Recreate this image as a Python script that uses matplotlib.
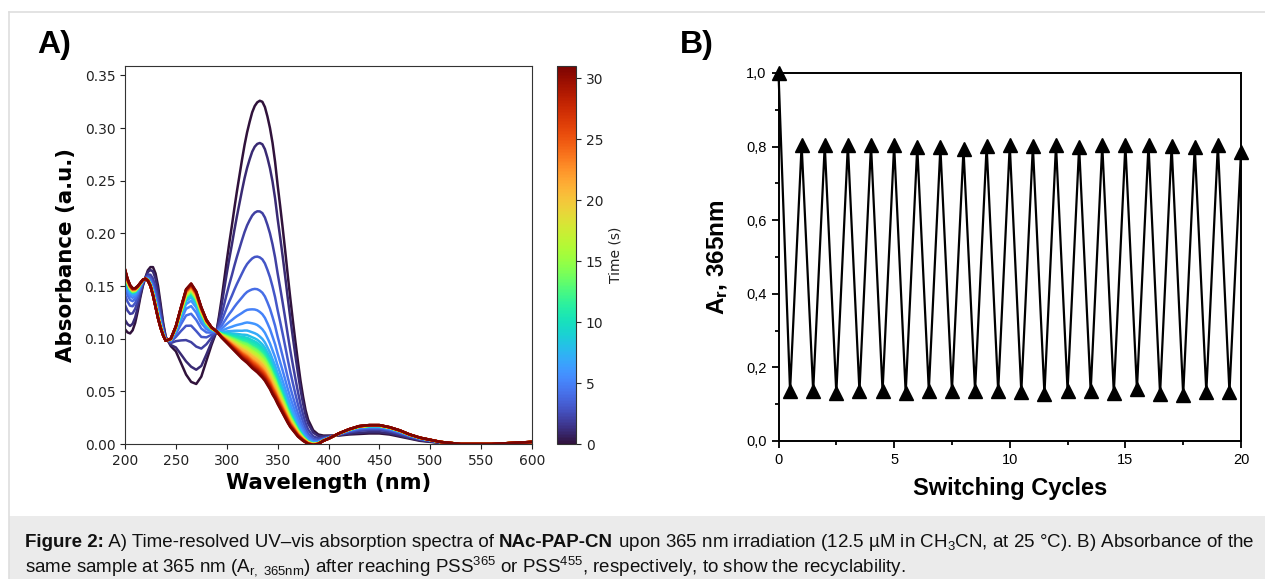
import numpy as np
import matplotlib
matplotlib.use("Agg")
import matplotlib.pyplot as plt
from matplotlib.colors import Normalize
from matplotlib.patches import Rectangle
from matplotlib.ticker import MultipleLocator, FuncFormatter

plt.rcParams['mathtext.fontset'] = 'custom'
plt.rcParams['mathtext.rm'] = 'Liberation Sans'
plt.rcParams['mathtext.it'] = 'Liberation Sans:italic'
plt.rcParams['mathtext.bf'] = 'Liberation Sans:bold'

# --- panel A data: spectra ---
wavelength = [200, 202.5, 205, 207.5, 210, 212.5, 215, 217.5, 220, 222.5, 225, 227.5,
              230, 232.5, 235, 237.5, 240, 245, 250, 255, 260, 265, 270, 275, 280,
              285, 290, 292.5, 295, 297.5, 300, 302.5, 305, 307.5, 310, 312.5, 315,
              317.5, 320, 322.5, 325, 327.5, 330, 332.5, 335, 337.5, 340, 342.5, 345,
              347.5, 350, 352.5, 355, 357.5, 360, 362.5, 365, 367.5, 370, 372.5, 375,
              377.5, 380, 385, 390, 395, 400, 410, 420, 430, 440, 450, 460, 470, 480,
              490, 500, 510, 520, 530, 540, 550, 560, 570, 580, 590, 600]
# spectrum at t = 0 s (darkest curve)
abs_start = [0.109, 0.106, 0.105, 0.108, 0.115, 0.126, 0.139, 0.150, 0.158, 0.165,
             0.168, 0.168, 0.162, 0.150, 0.133, 0.115, 0.102, 0.093, 0.088, 0.077,
             0.066, 0.059, 0.057, 0.064, 0.079, 0.094, 0.107, 0.122, 0.138, 0.156,
             0.174, 0.191, 0.207, 0.224, 0.240, 0.255, 0.270, 0.284, 0.296, 0.306,
             0.315, 0.321, 0.3245, 0.326, 0.325, 0.320, 0.311, 0.300, 0.286, 0.268,
             0.246, 0.226, 0.205, 0.183, 0.160, 0.138, 0.117, 0.097, 0.078, 0.060,
             0.045, 0.032, 0.023, 0.013, 0.009, 0.008, 0.008, 0.008, 0.009, 0.0095,
             0.010, 0.010, 0.009, 0.007, 0.005, 0.003, 0.002, 0.001, 0.0005, 0.0,
             0.0, 0.0, 0.0, 0.0, 0.0, 0.0, 0.0]
# photostationary spectrum at t = 31 s (dark red curve)
abs_pss = [0.166, 0.157, 0.151, 0.148, 0.148, 0.150, 0.153, 0.156, 0.157, 0.155,
           0.150, 0.141, 0.130, 0.119, 0.110, 0.103, 0.098, 0.100, 0.112, 0.130,
           0.147, 0.1525, 0.145, 0.130, 0.118, 0.111, 0.107, 0.104, 0.101, 0.0985,
           0.096, 0.0935, 0.091, 0.0885, 0.086, 0.0835, 0.081, 0.079, 0.077, 0.0745,
           0.072, 0.070, 0.068, 0.0655, 0.063, 0.060, 0.056, 0.052, 0.047, 0.043,
           0.038, 0.0335, 0.029, 0.0245, 0.020, 0.016, 0.013, 0.010, 0.007, 0.005,
           0.003, 0.0015, 0.000, -0.001, 0.000, 0.003, 0.005, 0.010, 0.014, 0.017,
           0.018, 0.018, 0.016, 0.013, 0.009, 0.006, 0.004, 0.002, 0.001, 0.0, 0.0,
           0.0, 0.0, 0.0005, 0.001, 0.0015, 0.002]
# irradiation time of each recorded spectrum and its absorbance at 330 nm
times = list(range(32))
abs_330 = [0.3245, 0.285, 0.221, 0.178, 0.147, 0.127, 0.113, 0.104, 0.099, 0.096,
           0.094, 0.092, 0.090, 0.089, 0.088, 0.086, 0.085, 0.084, 0.082, 0.081,
           0.080, 0.079, 0.077, 0.076, 0.075, 0.074, 0.073, 0.072, 0.071, 0.070,
           0.069, 0.068]

# --- panel B data: switching cycles ---
cycles = [i / 2 for i in range(41)]
abs_rel = [1.0, 0.135, 0.805, 0.135, 0.805, 0.13, 0.805, 0.135, 0.805, 0.135,
           0.805, 0.13, 0.80, 0.137, 0.798, 0.137, 0.793, 0.137, 0.802, 0.135,
           0.805, 0.133, 0.802, 0.127, 0.805, 0.137, 0.80, 0.135, 0.805, 0.13,
           0.805, 0.14, 0.805, 0.127, 0.802, 0.125, 0.80, 0.133, 0.805, 0.133,
           0.785]

W, H = 1265, 579
fig = plt.figure(figsize=(W / 100, H / 100), dpi=100)


def fx(px):
    return px / W


def fy(py):
    return 1 - py / H


# frame lines and caption box
fig.patches.append(Rectangle((fx(9), 0), 1 - fx(9), fy(516), transform=fig.transFigure,
                             facecolor='#ebebeb', edgecolor='none', zorder=0))
fig.add_artist(plt.Line2D([fx(9), 1], [fy(12), fy(12)], color='#dedede', lw=1.2))
fig.add_artist(plt.Line2D([fx(9), fx(9)], [0, fy(12)], color='#dedede', lw=1.2))

# ---------------- panel A ----------------
axA = fig.add_axes([fx(125), fy(444), fx(532) - fx(125), fy(66) - fy(444)])
wl = np.array(wavelength)
a0 = np.array(abs_start)
af = np.array(abs_pss)
i330 = wavelength.index(330)
norm = Normalize(vmin=0, vmax=31)
cmap = plt.get_cmap('turbo')
for t, peak in zip(times, abs_330):
    frac = (peak - abs_pss[i330]) / (abs_start[i330] - abs_pss[i330])
    axA.plot(wl, af + (a0 - af) * frac, color=cmap(norm(t)), lw=1.8,
             solid_joinstyle='round')

axA.set_xlim(200, 600)
axA.set_ylim(0, 0.359)
axA.set_xticks(range(200, 601, 50))
axA.set_yticks(np.arange(0, 0.351, 0.05))
axA.yaxis.set_major_formatter(FuncFormatter(lambda v, p: f"{v:.2f}"))
axA.tick_params(labelsize=10, colors='#222222')
for s in axA.spines.values():
    s.set_color('#333333')
axA.set_xlabel('Wavelength (nm)', fontsize=15.2, fontweight='bold', labelpad=4)
axA.set_ylabel('Absorbance (a.u.)', fontsize=15.4, fontweight='bold', labelpad=6)

cax = fig.add_axes([fx(557), fy(444), fx(576) - fx(557), fy(66) - fy(444)])
sm = plt.cm.ScalarMappable(norm=norm, cmap=cmap)
cb = fig.colorbar(sm, cax=cax)
cb.set_ticks(range(0, 31, 5))
cb.ax.tick_params(labelsize=10, colors='#222222')
cb.outline.set_edgecolor('#333333')
cb.set_label('Time (s)', fontsize=10, color='#222222')

fig.text(fx(37), fy(53), 'A)', fontsize=23, fontweight='bold',
         family='Liberation Sans', va='baseline')

# ---------------- panel B ----------------
axB = fig.add_axes([fx(778.5), fy(441), fx(1241) - fx(778.5), fy(73) - fy(441)])
axB.plot(cycles, abs_rel, color='black', lw=1.6, marker='^', ms=10, clip_on=False,
         zorder=3)
axB.set_xlim(0, 20)
axB.set_ylim(0, 1.0)
axB.xaxis.set_major_locator(MultipleLocator(5))
axB.xaxis.set_minor_locator(MultipleLocator(2.5))
axB.yaxis.set_major_locator(MultipleLocator(0.2))
axB.yaxis.set_minor_locator(MultipleLocator(0.1))
axB.yaxis.set_major_formatter(FuncFormatter(lambda v, p: f"{v:.1f}".replace('.', ',')))
axB.tick_params(which='both', direction='out', top=False, right=False, width=1.3)
axB.tick_params(which='major', length=5, labelsize=10.5)
axB.tick_params(which='minor', length=3)
for lab in axB.get_xticklabels() + axB.get_yticklabels():
    lab.set_family('Liberation Sans')
for s in axB.spines.values():
    s.set_linewidth(1.4)
axB.set_xlabel('Switching Cycles', fontsize=17, fontweight='bold',
               family='Liberation Sans', labelpad=7)
axB.set_ylabel(r'$\mathbf{A_r}$, 365nm', fontsize=17.5, fontweight='bold',
               family='Liberation Sans', labelpad=12)

fig.text(fx(680), fy(53), 'B)', fontsize=23, fontweight='bold',
         family='Liberation Sans', va='baseline')

# ---------------- caption ----------------
renderer = fig.canvas.get_renderer()


def text_width(s, size, weight):
    probe = fig.text(0, 0, '|' + s + '|', fontsize=size, fontweight=weight,
                     family='Liberation Sans')
    ref = fig.text(0, 0, '||', fontsize=size, fontweight=weight,
                   family='Liberation Sans')
    w = probe.get_window_extent(renderer).width - ref.get_window_extent(renderer).width
    probe.remove()
    ref.remove()
    return w


def put_runs(x_px, y_px, runs, size):
    for s, weight in runs:
        fig.text(fx(x_px), fy(y_px), s, fontsize=size, fontweight=weight,
                 family='Liberation Sans', va='baseline', color='#111111')
        x_px += text_width(s, size, weight)


line1 = [('Figure 2:', 'bold'),
         (' A) Time-resolved UV–vis absorption spectra of ', 'normal'),
         ('NAc-PAP-CN', 'bold'),
         (' upon 365 nm irradiation (12.5 µM in CH$_3$CN, at 25 °C). '
          'B) Absorbance of the', 'normal')]
line2 = [('same sample at 365 nm (A$_{\\mathrm{r,\\ 365nm}}$) after reaching '
          'PSS$^{365}$ or PSS$^{455}$, respectively, to show the recyclability.',
          'normal')]

# fit the first caption line to the box width
w10 = sum(text_width(s, 10, wt) for s, wt in line1)
cap_size = 10 * (1253 - 25) / w10
put_runs(25, 547, line1, cap_size)
put_runs(25, 572, line2, cap_size)

fig.savefig('out.png', dpi=100)
